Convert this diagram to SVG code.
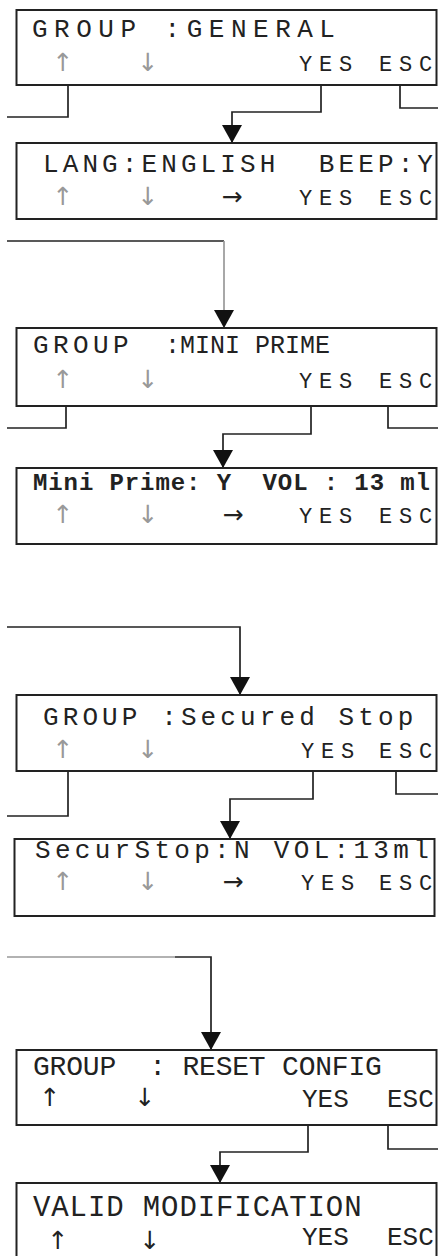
<svg xmlns="http://www.w3.org/2000/svg" width="438" height="1256" viewBox="0 0 438 1256">
<style>
.box{fill:#fff;stroke:#222;stroke-width:2}
.t{font-family:"Liberation Mono","Courier New",monospace;fill:#222;white-space:pre}
.ys{font-size:22px}
.ar{font-family:"DejaVu Sans",sans-serif;font-size:25px;text-anchor:middle;fill:#999}
.ra{font-family:"DejaVu Sans",sans-serif;font-size:25px;text-anchor:middle;fill:#222}
.c{fill:none;stroke:#222;stroke-width:1.7}
.g{stroke:#999}
</style>
<defs>
<marker id="ah" viewBox="0 0 18 20" refX="18" refY="10" markerWidth="18" markerHeight="20" markerUnits="userSpaceOnUse" orient="auto">
<path d="M0,0 L18,10 L0,20 z" fill="#111"/>
</marker>
</defs>
<g id="connectors">
<path class="c" d="M68,85 V117 H7"/>
<path class="c" d="M321,85 V112 H232 V143" marker-end="url(#ah)"/>
<path class="c" d="M400,85 V108 H440"/>
<path class="c" d="M7,241 H224"/>
<path class="c g" d="M224,241 V328" marker-end="url(#ah)"/>
<path class="c" d="M66,406 V428 H7"/>
<path class="c" d="M311,406 V434 H223 V468" marker-end="url(#ah)"/>
<path class="c" d="M388,406 V428 H440"/>
<path class="c" d="M7,627 H240 V695" marker-end="url(#ah)"/>
<path class="c" d="M68,771 V816 H7"/>
<path class="c" d="M313,771 V799 H230 V839" marker-end="url(#ah)"/>
<path class="c" d="M396,771 V794 H440"/>
<path class="c g" d="M7,957 H175"/>
<path class="c" d="M175,957 H211 V1050" marker-end="url(#ah)"/>
<path class="c" d="M308,1125 V1152 H220 V1183" marker-end="url(#ah)"/>
<path class="c" d="M388,1125 V1149 H440"/>
</g>
<g id="node-general">
<rect class="box" x="16.5" y="10" width="420" height="75"/>
<text class="t" x="32" y="37" font-size="26" letter-spacing="6.5">GROUP :GENERAL</text>
<text class="ar" x="63" y="71">↑</text>
<text class="ar" x="148" y="71">↓</text>
<text class="t ys" x="299 319 339 379 399 419" y="71">YESESC</text>
</g>
<g id="node-lang">
<rect class="box" x="16.5" y="143" width="420" height="76"/>
<text class="t" x="43" y="172" font-size="26" letter-spacing="4.1">LANG:ENGLISH  BEEP:Y</text>
<text class="ar" x="63" y="205">↑</text>
<text class="ar" x="148" y="205">↓</text>
<text class="ra" x="232" y="205">→</text>
<text class="t ys" x="299 319 339 379 399 419" y="205">YESESC</text>
</g>
<g id="node-miniprime-group">
<rect class="box" x="16.5" y="328" width="420" height="78"/>
<text class="t" y="353" font-size="26"><tspan x="33" letter-spacing="4.4">GROUP</tspan><tspan x="165" font-size="25">:MINI PRIME</tspan></text>
<text class="ar" x="63" y="388">↑</text>
<text class="ar" x="148" y="388">↓</text>
<text class="t ys" x="299 319 339 379 399 419" y="388">YESESC</text>
</g>
<g id="node-miniprime">
<rect class="box" x="16.5" y="468" width="420" height="76"/>
<text class="t" x="33" y="490" font-size="24" font-weight="bold" letter-spacing="0.9">Mini Prime: Y  VOL : 13 ml</text>
<text class="ar" x="63" y="523">↑</text>
<text class="ar" x="148" y="523">↓</text>
<text class="ra" x="233" y="523">→</text>
<text class="t ys" x="299 319 339 379 399 419" y="523">YESESC</text>
</g>
<g id="node-securedstop-group">
<rect class="box" x="16.5" y="695" width="420" height="76"/>
<text class="t" x="43" y="725" font-size="26" letter-spacing="4.1">GROUP :Secured Stop</text>
<text class="ar" x="63" y="758">↑</text>
<text class="ar" x="148" y="758">↓</text>
<text class="t ys" x="301 321 341 379 399 419" y="758">YESESC</text>
</g>
<g id="node-securstop">
<rect class="box" x="14.5" y="839" width="420" height="77"/>
<text class="t" x="35" y="858" font-size="26" letter-spacing="4.3">SecurStop:N VOL:13ml</text>
<text class="ar" x="63" y="890">↑</text>
<text class="ar" x="148" y="890">↓</text>
<text class="ra" x="233" y="890">→</text>
<text class="t ys" x="301 321 341 379 399 419" y="890">YESESC</text>
</g>
<g id="node-reset">
<rect class="box" x="16.5" y="1050" width="420" height="75"/>
<text class="t" x="33" y="1075" font-size="28" letter-spacing="-0.2" fill="#333">GROUP  : RESET CONFIG</text>
<text class="ra" x="50" y="1106" font-size="20" fill="#444">↑</text>
<text class="ra" x="145" y="1106" font-size="20" fill="#444">↓</text>
<text class="t" x="302" y="1107" font-size="26">YES</text>
<text class="t" x="387" y="1107" font-size="26">ESC</text>
</g>
<g id="node-valid">
<rect class="box" x="16.5" y="1183" width="420" height="80"/>
<text class="t" x="33" y="1216" font-size="29" letter-spacing="0.9" fill="#333">VALID MODIFICATION</text>
<text class="ra" x="58" y="1249" font-size="17" fill="#444">↑</text>
<text class="ra" x="150" y="1249" font-size="17" fill="#444">↓</text>
<text class="t" x="302" y="1245" font-size="26">YES</text>
<text class="t" x="387" y="1245" font-size="26">ESC</text>
</g>
</svg>
